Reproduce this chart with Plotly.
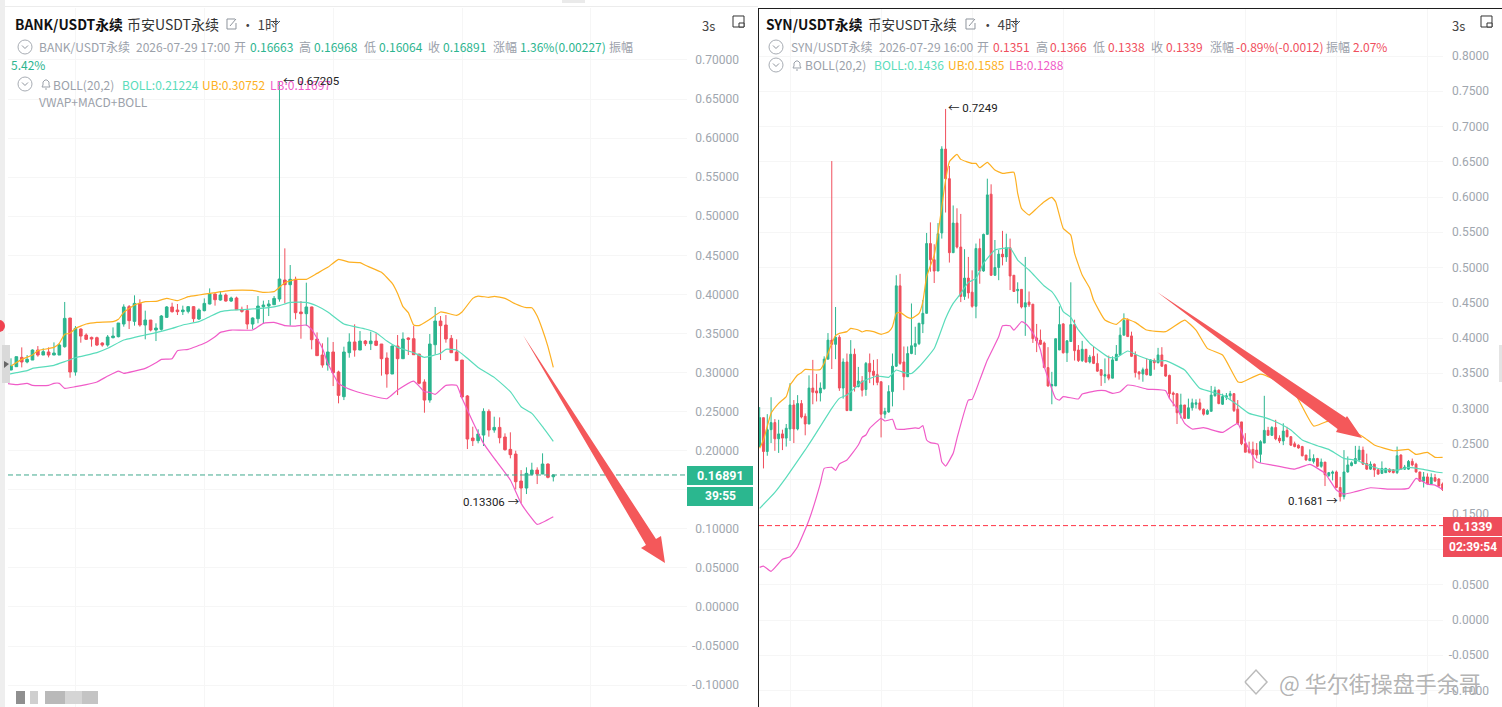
import plotly.graph_objects as go

# ---------- BANK/USDT (1h) candles: open, high, low, close ----------
bank_rows = [
(.3032,.3182,.3032,.3083),(.3075,.3203,.3075,.3203),(.3194,.3322,.3066,.3135),(.3135,.3224,.3118,.3169),
(.3160,.3297,.3160,.3288),(.3288,.3339,.3203,.3224),(.3224,.3310,.3224,.3267),(.3263,.3322,.3194,.3224),
(.3224,.3386,.3224,.3250),(.3224,.3374,.3224,.3352),(.3331,.3903,.3318,.3693),(.3698,.3698,.2934,.3007),
(.3007,.3595,.2960,.3565),(.3557,.3565,.3382,.3467),(.3480,.3502,.3416,.3425),(.3450,.3459,.3331,.3429),
(.3446,.3459,.3339,.3352),(.3378,.3386,.3331,.3352),(.3352,.3480,.3331,.3455),(.3446,.3578,.3437,.3467),
(.3459,.3634,.3450,.3634),(.3621,.3873,.3587,.3839),(.3843,.3864,.3557,.3664),(.3655,.3988,.3600,.3885),
(.3885,.3937,.3587,.3608),(.3608,.3792,.3425,.3672),(.3672,.3672,.3527,.3544),(.3544,.3630,.3403,.3570),
(.3553,.3736,.3536,.3723),(.3706,.3851,.3698,.3839),(.3839,.3894,.3766,.3779),(.3800,.3877,.3736,.3779),
(.3779,.3856,.3736,.3800),(.3783,.3851,.3757,.3843),(.3843,.3851,.3647,.3689),(.3685,.3821,.3672,.3800),
(.3792,.3949,.3783,.3885),(.3877,.4077,.3873,.4005),(.4005,.4013,.3856,.3932),(.3928,.4043,.3920,.3992),
(.3992,.4013,.3907,.3915),(.3915,.3971,.3903,.3954),(.3954,.3971,.3800,.3804),(.3809,.3843,.3766,.3783),
(.3792,.3864,.3553,.3621),(.3621,.3706,.3553,.3698),(.3689,.3979,.3630,.3851),(.3843,.3920,.3630,.3864),
(.3851,.3928,.3723,.3877),(.3868,.3979,.3864,.3949),(.3941,.67205,.3907,.4197),(.4184,.4589,.3885,.4124),
(.4124,.4376,.3600,.4193),(.4193,.4227,.3681,.3766),(.3775,.3915,.3433,.3753),(.3753,.4150,.3595,.3839),
(.3839,.3843,.3297,.3420),(.3429,.3514,.3216,.3216),(.3224,.3374,.3062,.3096),(.3096,.3450,.3024,.3263),
(.3263,.3391,.2827,.2998),(.3007,.3024,.2606,.2708),(.2691,.3331,.2648,.3263),(.3254,.3502,.3190,.3391),
(.3391,.3617,.3203,.3288),(.3288,.3531,.3288,.3403),(.3403,.3416,.3339,.3369),(.3369,.3523,.3288,.3403),
(.3403,.3502,.3339,.3348),(.3365,.3365,.2960,.3177),(.3186,.3258,.2806,.2981),(.2981,.3348,.2981,.3339),
(.3339,.3480,.2712,.3177),(.3177,.3514,.3177,.3429),(.3442,.3450,.3224,.3425),(.3433,.3595,.3228,.3228),
(.3237,.3237,.2849,.2862),(.2879,.2913,.2486,.2648),(.2648,.3493,.2614,.3365),(.3356,.3839,.3228,.3659),
(.3659,.3723,.3160,.3600),(.3608,.3736,.3382,.3429),(.3437,.3480,.3254,.3254),(.3263,.3425,.3152,.3152),
(.3160,.3160,.2670,.2687),(.2700,.2712,.2021,.2149),(.2162,.2307,.2060,.2128),(.2128,.2273,.2094,.2213),
(.2200,.2542,.2060,.2503),(.2503,.2529,.2179,.2264),(.2264,.2435,.2230,.2298),(.2298,.2426,.2094,.2166),
(.2175,.2222,.2000,.2013),(.2017,.2235,.1902,.1949),(.1957,.2000,.1505,.1603),(.1612,.1752,.13306,.1522),
(.1522,.1787,.1445,.1710),(.1697,.1846,.1684,.1752),(.1752,.1787,.1573,.1701),(.1701,.1966,.1701,.1829),
(.1829,.1838,.1646,.1659),(.16663,.16968,.16064,.16891),
]
bank_open, bank_high, bank_low, bank_close = map(list, zip(*bank_rows))
bank_index = list(range(len(bank_open)))

bank_ub_i = [0,2,4,5,8,9,10,11,12,14,16,19,20,21,23,25,27,29,31,33,35,37,41,45,47,49,51,53,55,57,59,61,63,65,66,69,71,72,73,74,75,76,78,80,83,84,86,87,89,90,92,94,96,97,98,99,100,101]
bank_ub = [.3083,.3169,.3224,.3280,.3322,.3374,.3489,.3502,.3565,.3621,.3642,.3651,.3681,.3770,.3864,.3907,.3911,.3949,.3920,.3971,.3992,.4013,.4052,.4052,.4026,.4035,.4150,.4193,.4193,.4269,.4346,.4449,.4414,.4406,.4372,.4282,.4141,.4013,.3843,.3766,.3608,.3600,.3681,.3775,.3732,.3775,.3949,.3979,.3962,.3975,.3949,.3877,.3830,.3830,.3723,.3544,.3331,.3066]
bank_mid_i = [-1,1,3,4,8,10,12,16,18,21,23,25,27,30,32,35,37,39,41,44,48,50,52,55,57,59,62,64,66,68,70,72,75,77,80,81,83,85,87,90,93,95,97,99,101]
bank_mid = [.2972,.2998,.3024,.3054,.3092,.3139,.3190,.3254,.3310,.3416,.3450,.3480,.3510,.3565,.3608,.3651,.3715,.3779,.3800,.3809,.3830,.3856,.3898,.3898,.3851,.3775,.3621,.3587,.3557,.3510,.3403,.3322,.3254,.3194,.3246,.3297,.3288,.3182,.3066,.2938,.2755,.2563,.2478,.2307,.2119]
bank_lb_i = [-1,1,3,4,7,8,9,10,12,14,16,18,20,21,23,25,27,28,30,31,33,36,38,39,41,45,47,49,51,53,55,56,58,59,61,62,64,70,72,75,77,78,79,81,83,84,86,88,90,93,95,97,98,101]
bank_lb = [.2862,.2845,.2862,.2836,.2836,.2862,.2862,.2798,.2819,.2845,.2879,.2955,.3019,.2990,.3019,.3054,.3126,.3169,.3177,.3280,.3297,.3374,.3459,.3514,.3544,.3544,.3630,.3642,.3600,.3595,.3608,.3553,.3310,.3118,.2862,.2819,.2764,.2665,.2776,.2891,.2755,.2746,.2721,.2836,.2836,.2670,.2371,.2094,.1902,.1625,.1326,.1134,.1057,.1155]
bank_ticks = [.70,.65,.60,.55,.50,.45,.40,.35,.30,.25,.20,.15,.10,.05,0,-.05,-.10]
bank_tick_labels = ["0.70000","0.65000","0.60000","0.55000","0.50000","0.45000","0.40000","0.35000","0.30000","0.25000","0.20000","","0.10000","0.05000","0.00000","-0.05000","-0.10000"]
bank_grid_x = [12,36,60,84,108]
bank_last = 0.16891

# ---------- SYN/USDT (4h) candles: open, high, low, close ----------
syn_rows = [
(.246,.302,.246,.287),(.287,.287,.215,.239),(.239,.292,.233,.270),(.270,.316,.251,.280),(.280,.285,.240,.257),
(.257,.284,.237,.264),(.264,.270,.241,.258),(.258,.278,.246,.272),(.271,.336,.254,.305),(.305,.312,.251,.271),
(.271,.319,.269,.307),(.307,.312,.286,.288),(.289,.293,.262,.278),(.278,.347,.278,.329),(.329,.369,.306,.323),
(.325,.349,.310,.322),(.322,.337,.310,.329),(.328,.374,.327,.370),(.370,.407,.370,.397),(.397,.651,.356,.391),
(.391,.444,.370,.401),(.401,.404,.325,.329),(.329,.371,.314,.366),(.366,.378,.297,.297),(.297,.397,.297,.377),
(.377,.385,.324,.331),(.331,.359,.330,.339),(.339,.346,.317,.326),(.327,.366,.318,.364),(.364,.378,.336,.352),
(.353,.369,.333,.347),(.348,.370,.333,.337),(.338,.338,.259,.292),(.292,.301,.286,.296),(.295,.333,.294,.324),
(.324,.378,.303,.360),(.360,.489,.359,.474),(.474,.491,.362,.364),(.366,.388,.326,.345),(.345,.388,.345,.378),
(.378,.449,.377,.389),(.388,.416,.376,.392),(.392,.421,.390,.421),(.420,.454,.407,.435),(.435,.549,.435,.534),
(.534,.564,.494,.511),(.511,.533,.478,.495),(.495,.563,.495,.548),(.549,.672,.541,.668),(.668,.7249,.578,.626),
(.626,.644,.507,.521),(.521,.588,.521,.563),(.563,.584,.527,.529),(.529,.576,.451,.459),(.459,.526,.454,.485),
(.485,.515,.456,.464),(.465,.496,.443,.445),(.445,.534,.428,.527),(.527,.541,.477,.495),(.495,.548,.494,.547),
(.547,.626,.547,.603),(.604,.618,.488,.489),(.489,.539,.488,.500),(.500,.525,.482,.519),(.519,.552,.503,.515),
(.515,.548,.508,.528),(.528,.541,.468,.488),(.489,.489,.466,.466),(.467,.479,.449,.469),(.469,.469,.442,.444),
(.444,.515,.403,.450),(.451,.466,.444,.447),(.448,.448,.393,.399),(.400,.420,.380,.396),(.397,.412,.390,.391),
(.393,.395,.358,.358),(.358,.387,.331,.332),(.332,.352,.306,.334),(.332,.399,.332,.399),(.383,.445,.383,.419),
(.420,.421,.378,.379),(.379,.397,.366,.396),(.395,.479,.395,.419),(.419,.426,.368,.382),(.383,.390,.366,.368),
(.368,.396,.366,.384),(.384,.384,.365,.366),(.366,.376,.364,.373),(.374,.388,.363,.364),(.364,.378,.352,.353),
(.355,.356,.332,.347),(.346,.371,.336,.348),(.348,.375,.340,.343),(.343,.374,.343,.369),(.368,.390,.368,.377),
(.376,.415,.376,.404),(.404,.435,.404,.425),(.426,.428,.402,.402),(.403,.409,.373,.374),(.376,.381,.344,.351),
(.352,.352,.341,.349),(.349,.358,.338,.355),(.356,.371,.347,.348),(.347,.370,.346,.369),(.368,.371,.355,.365),
(.365,.386,.364,.376),(.376,.387,.359,.360),(.362,.363,.345,.346),(.347,.348,.314,.321),(.322,.324,.303,.320),
(.321,.321,.278,.294),(.294,.321,.286,.305),(.305,.305,.285,.286),(.286,.314,.286,.301),(.301,.314,.297,.308),
(.306,.313,.300,.308),(.308,.314,.297,.299),(.299,.300,.290,.292),(.292,.299,.291,.297),(.296,.332,.296,.319),
(.318,.331,.317,.326),(.326,.327,.306,.307),(.306,.321,.305,.317),(.316,.322,.312,.318),(.318,.325,.312,.321),
(.321,.322,.295,.297),(.299,.312,.277,.279),(.281,.281,.248,.250),(.250,.265,.238,.238),(.242,.253,.236,.238),
(.242,.253,.215,.235),(.241,.251,.229,.234),(.235,.255,.223,.253),(.251,.318,.251,.269),(.269,.274,.262,.262),
(.262,.275,.261,.273),(.273,.284,.255,.257),(.258,.262,.251,.254),(.254,.279,.248,.268),(.269,.274,.259,.260),
(.260,.261,.247,.248),(.250,.253,.245,.246),(.248,.249,.243,.244),(.246,.247,.232,.233),(.234,.234,.226,.227),
(.226,.242,.226,.229),(.225,.235,.222,.229),(.229,.230,.217,.218),(.218,.229,.216,.224),(.224,.224,.190,.206),
(.205,.210,.203,.209),(.208,.212,.198,.210),(.210,.212,.187,.188),(.188,.203,.1681,.175),(.175,.241,.171,.210),
(.210,.232,.209,.220),(.219,.225,.218,.223),(.222,.247,.221,.229),(.227,.247,.226,.241),(.241,.246,.220,.221),
(.222,.236,.213,.214),(.214,.225,.213,.221),(.221,.222,.203,.213),(.213,.214,.206,.207),(.208,.225,.207,.215),
(.209,.216,.209,.215),(.214,.215,.209,.210),(.213,.214,.208,.209),(.209,.246,.207,.233),(.234,.235,.213,.214),
(.214,.220,.213,.217),(.214,.227,.213,.225),(.225,.229,.218,.220),(.221,.223,.209,.210),(.210,.210,.196,.197),
(.197,.210,.188,.203),(.203,.208,.192,.193),(.193,.208,.192,.202),(.202,.207,.196,.197),(.200,.201,.189,.190),
(.193,.195,.183,.185),
]
syn_open, syn_high, syn_low, syn_close = map(list, zip(*syn_rows))
syn_index = list(range(len(syn_open)))

syn_ub_i = [0,1,3,5,7,8,10,11,12,15,16,17,19,20,21,23,24,26,27,28,30,32,34,35,36,37,39,40,42,43,44,46,47,48,49,50,52,53,56,57,58,60,62,64,67,68,69,71,73,75,77,78,80,82,83,85,87,88,91,94,96,99,102,107,112,115,118,122,126,127,132,135,141,146,150,159,162,167,171,173,176,178,180]
syn_ub = [.2435,.2553,.2931,.3073,.3168,.3333,.3475,.3508,.3555,.3546,.3555,.3641,.3924,.4033,.4066,.4090,.4137,.4114,.4085,.4104,.4090,.4052,.4090,.4161,.4350,.4364,.4293,.4278,.4349,.4514,.4869,.5177,.5484,.5862,.6241,.6501,.6605,.6534,.6477,.6477,.6416,.6491,.6383,.6335,.6350,.6052,.5839,.5744,.5839,.5933,.5995,.5933,.5555,.5460,.5200,.4893,.4705,.4538,.4255,.4194,.4279,.4222,.4113,.4090,.4255,.4113,.3853,.3759,.3380,.3371,.3489,.3428,.3215,.2751,.2822,.2600,.2482,.2401,.2420,.2349,.2378,.2307,.2307]
syn_mid_i = [0,4,7,12,14,19,21,23,27,31,34,36,38,40,42,46,49,51,53,55,57,59,62,66,68,71,75,77,79,80,82,84,87,92,94,97,100,104,107,112,116,122,126,129,133,136,140,143,147,150,154,157,161,164,168,171,175,178,180]
syn_mid = [.1584,.1811,.2024,.2412,.2577,.3003,.3144,.3191,.3380,.3461,.3442,.3546,.3510,.3497,.3592,.3852,.4278,.4491,.4633,.4789,.4845,.5058,.5247,.5276,.5106,.4964,.4737,.4658,.4492,.4374,.4293,.4114,.3924,.3726,.3721,.3816,.3745,.3674,.3678,.3546,.3286,.3191,.3049,.2931,.2874,.2813,.2695,.2553,.2472,.2420,.2292,.2269,.2184,.2136,.2127,.2165,.2136,.2103,.2089]
syn_lb_i = [0,1,3,6,8,10,13,16,17,19,20,21,23,26,27,28,29,32,33,35,36,38,41,42,43,44,45,47,48,49,51,52,55,56,58,60,63,64,66,67,69,70,71,73,74,75,78,79,80,84,85,89,91,93,95,97,99,102,107,108,110,112,114,117,122,126,128,131,135,141,145,149,152,154,157,161,166,171,173,176,178,180]
syn_lb = [.0747,.0765,.0690,.0860,.0898,.1040,.1418,.1939,.2151,.2166,.2123,.2213,.2270,.2482,.2591,.2624,.2719,.2861,.2823,.2847,.2709,.2705,.2724,.2719,.2757,.2553,.2516,.2492,.2246,.2184,.2364,.2577,.3119,.3130,.3403,.3687,.4018,.4174,.4174,.4112,.4231,.4207,.4150,.3972,.3830,.3593,.3144,.3120,.3168,.3135,.3205,.3253,.3253,.3215,.3238,.3333,.3319,.3276,.3253,.3144,.3000,.2789,.2709,.2728,.2661,.2789,.2529,.2245,.2198,.2141,.2207,.2080,.1843,.1786,.1820,.1876,.1857,.1867,.2009,.1928,.1914,.1852]
syn_ticks = [.80,.75,.70,.65,.60,.55,.50,.45,.40,.35,.30,.25,.20,.15,.10,.05,0,-.05,-.10]
syn_tick_labels = ["0.8000","0.7500","0.7000","0.6500","0.6000","0.5500","0.5000","0.4500","0.4000","0.3500","0.3000","0.2500","0.2000","0.1500","","0.0500","0.0000","-0.0500","-0.1000"]
syn_grid_x = [8,32,56,80,104,128,152,176]
syn_last = 0.1339

# ---------- styling ----------
W, H = 1502, 707
GREEN, RED = "#2cb58f", "#f04f5d"
TEAL, ORANGE, PINK = "#5adcbb", "#fdb022", "#f05cc8"
GREY = "#9ba1aa"
AXIS_GREY = "#a0a6ae"
FONT = "Roboto, 'Noto Sans CJK SC', sans-serif"
CJK = "'Noto Sans CJK SC', Roboto, sans-serif"
px = lambda x: x / W
py = lambda y: 1 - y / H

fig = go.Figure()

def panel(xa, ya, idx, o, h, l, c, ub_i, ub, mid_i, mid, lb_i, lb, last, last_color):
    fig.add_trace(go.Candlestick(x=idx, open=o, high=h, low=l, close=c, xaxis=xa, yaxis=ya,
        increasing=dict(line=dict(color=GREEN, width=1), fillcolor=GREEN),
        decreasing=dict(line=dict(color=RED, width=1), fillcolor=RED),
        whiskerwidth=0, hoverinfo="skip", showlegend=False))
    for xs, ys, col in ((ub_i, ub, ORANGE), (mid_i, mid, TEAL), (lb_i, lb, PINK)):
        fig.add_trace(go.Scatter(x=xs, y=ys, mode="lines", xaxis=xa, yaxis=ya, hoverinfo="skip",
            line=dict(color=col, width=1.2, shape="spline", smoothing=0.4), showlegend=False))
    fig.add_shape(type="line", xref=f"{xa} domain", yref=ya, x0=0, x1=1, y0=last, y1=last,
                  line=dict(color=last_color, width=1, dash="5px 3px"))

panel("x", "y", bank_index, bank_open, bank_high, bank_low, bank_close,
      bank_ub_i, bank_ub, bank_mid_i, bank_mid, bank_lb_i, bank_lb, bank_last, "#3fa98c")
panel("x2", "y2", syn_index, syn_open, syn_high, syn_low, syn_close,
      syn_ub_i, syn_ub, syn_mid_i, syn_mid, syn_lb_i, syn_lb, syn_last, "#ff3344")

def xaxis(dom, rng, grid):
    return dict(domain=[px(dom[0]), px(dom[1])], range=rng, tickvals=grid, showticklabels=False, ticks="",
                showgrid=True, gridcolor="#f6f6f6", gridwidth=1, zeroline=False, showline=False,
                rangeslider=dict(visible=False), fixedrange=True)

def yaxis(rng, vals, labels, pos):
    return dict(domain=[0, py(8)], range=rng, tickvals=vals, ticktext=labels, side="right", anchor="free",
                position=px(pos), ticklabelposition="inside", ticks="", showgrid=True, gridcolor="#f6f6f6",
                gridwidth=1, zeroline=False, showline=False, tickfont=dict(family=FONT, size=12, color=AXIS_GREY),
                fixedrange=True)

# ---------- page furniture ----------
shapes = []
def rect(x0, y0, x1, y1, fill, line=None):
    shapes.append(dict(type="rect", xref="paper", yref="paper", x0=px(x0), x1=px(x1), y0=py(y0), y1=py(y1),
                       fillcolor=fill, line=dict(width=0) if line is None else dict(color=line, width=1), layer="above"))
def path(pts, fill=None, color=None, width=1, close=False):
    d = "M" + " L".join(f"{px(a):.5f},{py(b):.5f}" for a, b in pts) + (" Z" if close else "")
    shapes.append(dict(type="path", xref="paper", yref="paper", path=d, fillcolor=fill,
                       line=dict(width=0) if color is None else dict(color=color, width=width), layer="above"))
def circle(cx, cy, r, fill=None, color=None):
    shapes.append(dict(type="circle", xref="paper", yref="paper", x0=px(cx-r), x1=px(cx+r), y0=py(cy+r), y1=py(cy-r),
                       fillcolor=fill, line=dict(width=0) if color is None else dict(color=color, width=1), layer="above"))
def chevron(cx, cy, s=3, color=GREY):
    path([(cx-s, cy-s/2), (cx, cy+s/2), (cx+s, cy-s/2)], color=color)
def ring(cx, cy):
    circle(cx, cy, 7, color="#a8adb4"); chevron(cx, cy, 3, "#8f959d")
def bell(cx, cy):
    path([(cx-4, cy+3), (cx-3, cy+1), (cx-3, cy-2), (cx-1, cy-4), (cx+1, cy-4), (cx+3, cy-2), (cx+3, cy+1), (cx+4, cy+3), (cx-4, cy+3)], color=GREY)
    path([(cx-1, cy+5), (cx+1, cy+5)], color=GREY)
def edit(cx, cy):
    path([(cx+4, cy-5), (cx-4, cy-5), (cx-4, cy+5), (cx+5, cy+5), (cx+5, cy-1)], color="#8f959d")
    path([(cx-1, cy+2), (cx+5, cy-5)], color="#8f959d")
def layout_icon(cx, cy):
    path([(cx-6, cy+5), (cx-6, cy-6), (cx+5, cy-6), (cx+5, cy+5), (cx-6, cy+5)], color="#333333")
    rect(cx, cy+1, cx+5, cy+5, "#ffffff", "#333333")

rect(0, 0, 5, H, "#eeeeee")
rect(5, 6, 758, 7, "#ececec")
rect(562, 0, 585, 3, "#eaeaea")
rect(758, 8, 759, H, "#1e1e1e")
rect(758, 8, W, 9, "#1e1e1e")
circle(-1, 326, 6, fill="#f0424f")
rect(2, 345, 10, 383, "#d9d9d9")
path([(4, 361), (9, 364), (4, 368)], fill="#666666", close=True)
rect(1499, 345, W, 382, "#e4e4e4")
for x0, x1, col in ((16, 25, "#8f8f8f"), (30, 38, "#cfcfcf"), (45, 65, "#b9b9b9"), (65, 82, "#d5d5d5"), (82, 98, "#c4c4c4")):
    rect(x0, 691, x1, 704, col)

# red arrows
ARROW = "#f4585a"
path([(523, 335), (656, 538.9), (661, 536), (665, 563), (641, 548), (646, 545.1)], fill=ARROW, close=True)
path([(1157, 292), (1345.8, 417.7), (1347, 416), (1362, 438), (1336, 432), (1337.6, 429.1)], fill=ARROW, close=True)

# price tags
rect(687, 466, 753, 485, "#2bb78f")
rect(687, 487, 753, 506, "#2bb78f")
rect(1443, 517, W, 536, "#ee4d5a")
rect(1443, 537, W, 557, "#ee4d5a")

for x, y in ((25, 47), (25, 84), (776, 47), (776, 65)):
    ring(x, y)
bell(46, 84); bell(797, 65)
edit(231, 24); edit(970, 24)
chevron(276, 23, 4, "#555555"); chevron(1016, 23, 4, "#555555")
layout_icon(739, 22); layout_icon(1487, 22)

# ---------- texts ----------
ann = []
def T(x, y, s, color=GREY, size=12, bold=False, anchor="left", family=CJK):
    ann.append(dict(xref="paper", yref="paper", x=px(x), y=py(y), text=f"<b>{s}</b>" if bold else s, showarrow=False,
                    xanchor=anchor, yanchor="middle", borderpad=0, borderwidth=0, align=anchor,
                    font=dict(family=family, size=size, color=color)))

T(15, 24, "BANK/USDT永续", "#111111", 13.8, True)
T(127, 24, "币安USDT永续", "#333333", 14)
T(241, 24, "· 1时", "#444444", 13.5)
T(702, 25, "3s", "#444444", 13)
for x, s, c in ((39, "BANK/USDT永续", GREY), (136, "2026-07-29 17:00", GREY), (234, "开", GREY), (250, "0.16663", GREEN),
                (299, "高", GREY), (314, "0.16968", GREEN), (364, "低", GREY), (379, "0.16064", GREEN),
                (428, "收", GREY), (443, "0.16891", GREEN), (493, "涨幅", GREY), (520, "1.36%(0.00227)", GREEN), (609, "振幅", GREY)):
    T(x, 47, s, c)
T(11, 65, "5.42%", GREEN)
T(53, 84, "BOLL(20,2)", GREY)
T(122, 84, "BOLL:0.21224", TEAL)
T(202, 84, "UB:0.30752", ORANGE)
T(270, 84, "LB:0.11697", PINK)
T(39, 102, "VWAP+MACD+BOLL", GREY)

T(766, 24, "SYN/USDT永续", "#111111", 13.8, True)
T(868, 24, "币安USDT永续", "#333333", 13.5)
T(981, 24, "· 4时", "#444444", 13.5)
T(1452, 25, "3s", "#444444", 13)
for x, s, c in ((791, "SYN/USDT永续", GREY), (879, "2026-07-29 16:00", GREY), (977, "开", GREY), (993, "0.1351", RED),
                (1036, "高", GREY), (1050, "0.1366", RED), (1093, "低", GREY), (1108, "0.1338", RED),
                (1151, "收", GREY), (1166, "0.1339", RED), (1210, "涨幅", GREY), (1236, "-0.89%(-0.0012)", RED),
                (1326, "振幅", GREY), (1353, "2.07%", RED)):
    T(x, 47, s, c)
T(805, 65, "BOLL(20,2)", GREY)
T(874, 65, "BOLL:0.1436", TEAL)
T(948, 65, "UB:0.1585", ORANGE)
T(1009, 65, "LB:0.1288", PINK)

T(283, 81, "← 0.67205", "#222222", 11.5, family=FONT)
T(520, 502, "0.13306 →", "#222222", 11.5, anchor="right", family=FONT)
T(948, 108, "← 0.7249", "#222222", 11.5, family=FONT)
T(1338, 501, "0.1681 →", "#222222", 11.5, anchor="right", family=FONT)

T(720, 475, "0.16891", "#ffffff", 12.5, True, anchor="center", family=FONT)
T(720, 496, "39:55", "#ffffff", 12, True, anchor="center", family=FONT)
T(1472.5, 526, "0.1339", "#ffffff", 12.5, True, anchor="center", family=FONT)
T(1472.5, 547, "02:39:54", "#ffffff", 12, True, anchor="center", family=FONT)

T(1279, 682, "@ 华尔街操盘手余哥", "rgba(170,170,170,0.9)", 22)
path([(1245, 682), (1256, 670), (1267, 682), (1256, 694), (1245, 682)], color="rgba(170,170,170,0.8)", width=1.5)

fig.update_layout(
    width=W, height=H, margin=dict(l=0, r=0, t=0, b=0), autosize=False,
    paper_bgcolor="#ffffff", plot_bgcolor="#ffffff", showlegend=False, dragmode=False, boxgap=0.3,
    xaxis=xaxis((8, 687), [-0.56, 125.9], bank_grid_x),
    yaxis=yaxis([-0.1280, 0.7665], bank_ticks, bank_tick_labels, 742),
    xaxis2=xaxis((759, 1443), [-0.18, 180.1], syn_grid_x),
    yaxis2=yaxis([-0.1234, 0.8681], syn_ticks, syn_tick_labels, 1492),
    annotations=ann,
)
for s in shapes:
    fig.add_shape(**s)

fig.write_html("out.html", config=dict(displayModeBar=False),
               post_script="document.body.style.margin='0';document.body.style.overflow='hidden';")
